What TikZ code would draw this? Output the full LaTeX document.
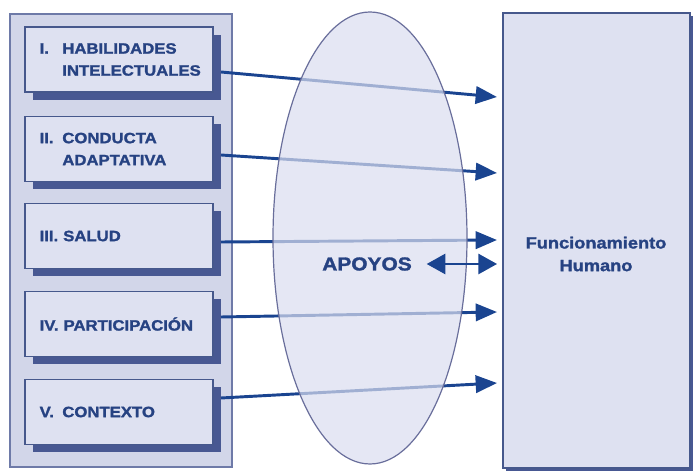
\documentclass[tikz,border=0pt]{standalone}
\usepackage{fontspec}
\setmainfont{Liberation Sans}[FakeStretch=1.12, BoldFeatures={FakeBold=1.6}]
\usetikzlibrary{shapes.geometric,shadows,arrows.meta,calc}
\definecolor{panelfill}{RGB}{210,214,233}
\definecolor{panelline}{RGB}{110,122,168}
\definecolor{boxfill}{RGB}{222,225,241}
\definecolor{boxline}{RGB}{70,88,140}
\definecolor{shadowc}{RGB}{72,88,146}
\definecolor{txtc}{RGB}{38,66,130}
\definecolor{arrowc}{RGB}{26,68,144}
\definecolor{ellfill}{RGB}{218,221,239}
\definecolor{ellline}{RGB}{105,110,155}
\tikzset{
  panel/.style={draw=panelline, line width=0.8pt, fill=panelfill, minimum width=166.5pt, minimum height=339.75pt, inner sep=0pt},
  catbox/.style={draw=boxline, line width=0.9pt, fill=boxfill, minimum width=141pt, minimum height=48.75pt,
    text width=119pt, inner xsep=11pt, align=left, text=txtc,
    font=\bfseries\fontsize{11.2}{16.5}\selectfont,
    drop shadow={shadow xshift=6pt, shadow yshift=-6pt, fill=shadowc, opacity=1}},
  fhbox/.style={draw=boxline, line width=0.9pt, fill=boxfill, minimum width=140.25pt, minimum height=341.25pt, inner sep=0pt,
    drop shadow={shadow xshift=2pt, shadow yshift=-2pt, fill=shadowc, opacity=1}},
  fhtext/.style={text=txtc, align=center, font=\bfseries\fontsize{12.2}{17}\selectfont},
  ell/.style={ellipse, draw=ellline, line width=0.9pt, fill=ellfill, fill opacity=0.7, minimum width=145.5pt, minimum height=339pt, inner sep=0pt},
  apolbl/.style={text=txtc, font=\bfseries\fontsize{14}{16}\selectfont, inner sep=0pt},
  flow/.style={draw=arrowc, line width=2.2pt, -{Triangle[length=16pt,width=13pt]}},
  dflow/.style={draw=arrowc, line width=2pt, {Triangle[length=14pt,width=15pt]}-{Triangle[length=14pt,width=15pt]}},
}
\newcommand{\numlbl}[1]{\makebox[17pt][l]{#1}}
\begin{document}
\begin{tikzpicture}[x=0.75pt,y=-0.75pt]
\useasboundingbox (0,0) rectangle (694,473);
% left panel
\node[panel] (panel) at (121,240.5) {};
% category boxes
\node[catbox] (b1) at (119,59.5) {\mbox{\numlbl{I.}HABILIDADES}\\ \mbox{\numlbl{}INTELECTUALES}};
\node[catbox] (b2) at (119,149) {\mbox{\numlbl{II.}CONDUCTA}\\ \mbox{\numlbl{}ADAPTATIVA}};
\node[catbox] (b3) at (119,236) {\mbox{III. SALUD}};
\node[catbox] (b4) at (119,324) {\mbox{IV. PARTICIPACIÓN}};
\node[catbox] (b5) at (119,412) {\mbox{\numlbl{V.}CONTEXTO}};
% right box
\node[fhbox] (fh) at (596.5,240.5) {};
\node[fhtext] (fht) at (596,254) {Funcionamiento\\Humano};
% arrow end points
\coordinate (s1) at (221,72);  \coordinate (e1) at (497,97);
\coordinate (s2) at (221,155); \coordinate (e2) at (497,173);
\coordinate (s3) at (221,242); \coordinate (e3) at (497,240);
\coordinate (s4) at (221,317); \coordinate (e4) at (497,312);
\coordinate (s5) at (221,398); \coordinate (e5) at (497,383);
\draw[flow] (s1) -- (e1);
\draw[flow] (s2) -- (e2);
\draw[flow] (s3) -- (e3);
\draw[flow] (s4) -- (e4);
\draw[flow] (s5) -- (e5);
% ellipse
\node[ell] (apoyosell) at (370,238) {};
\node[apolbl] (apoyos) at (367,264) {APOYOS};
\draw[dflow, shorten <=11pt, shorten >=4pt] (apoyos.east) -- (fh.west |- apoyos.east);
\end{tikzpicture}
\end{document}
